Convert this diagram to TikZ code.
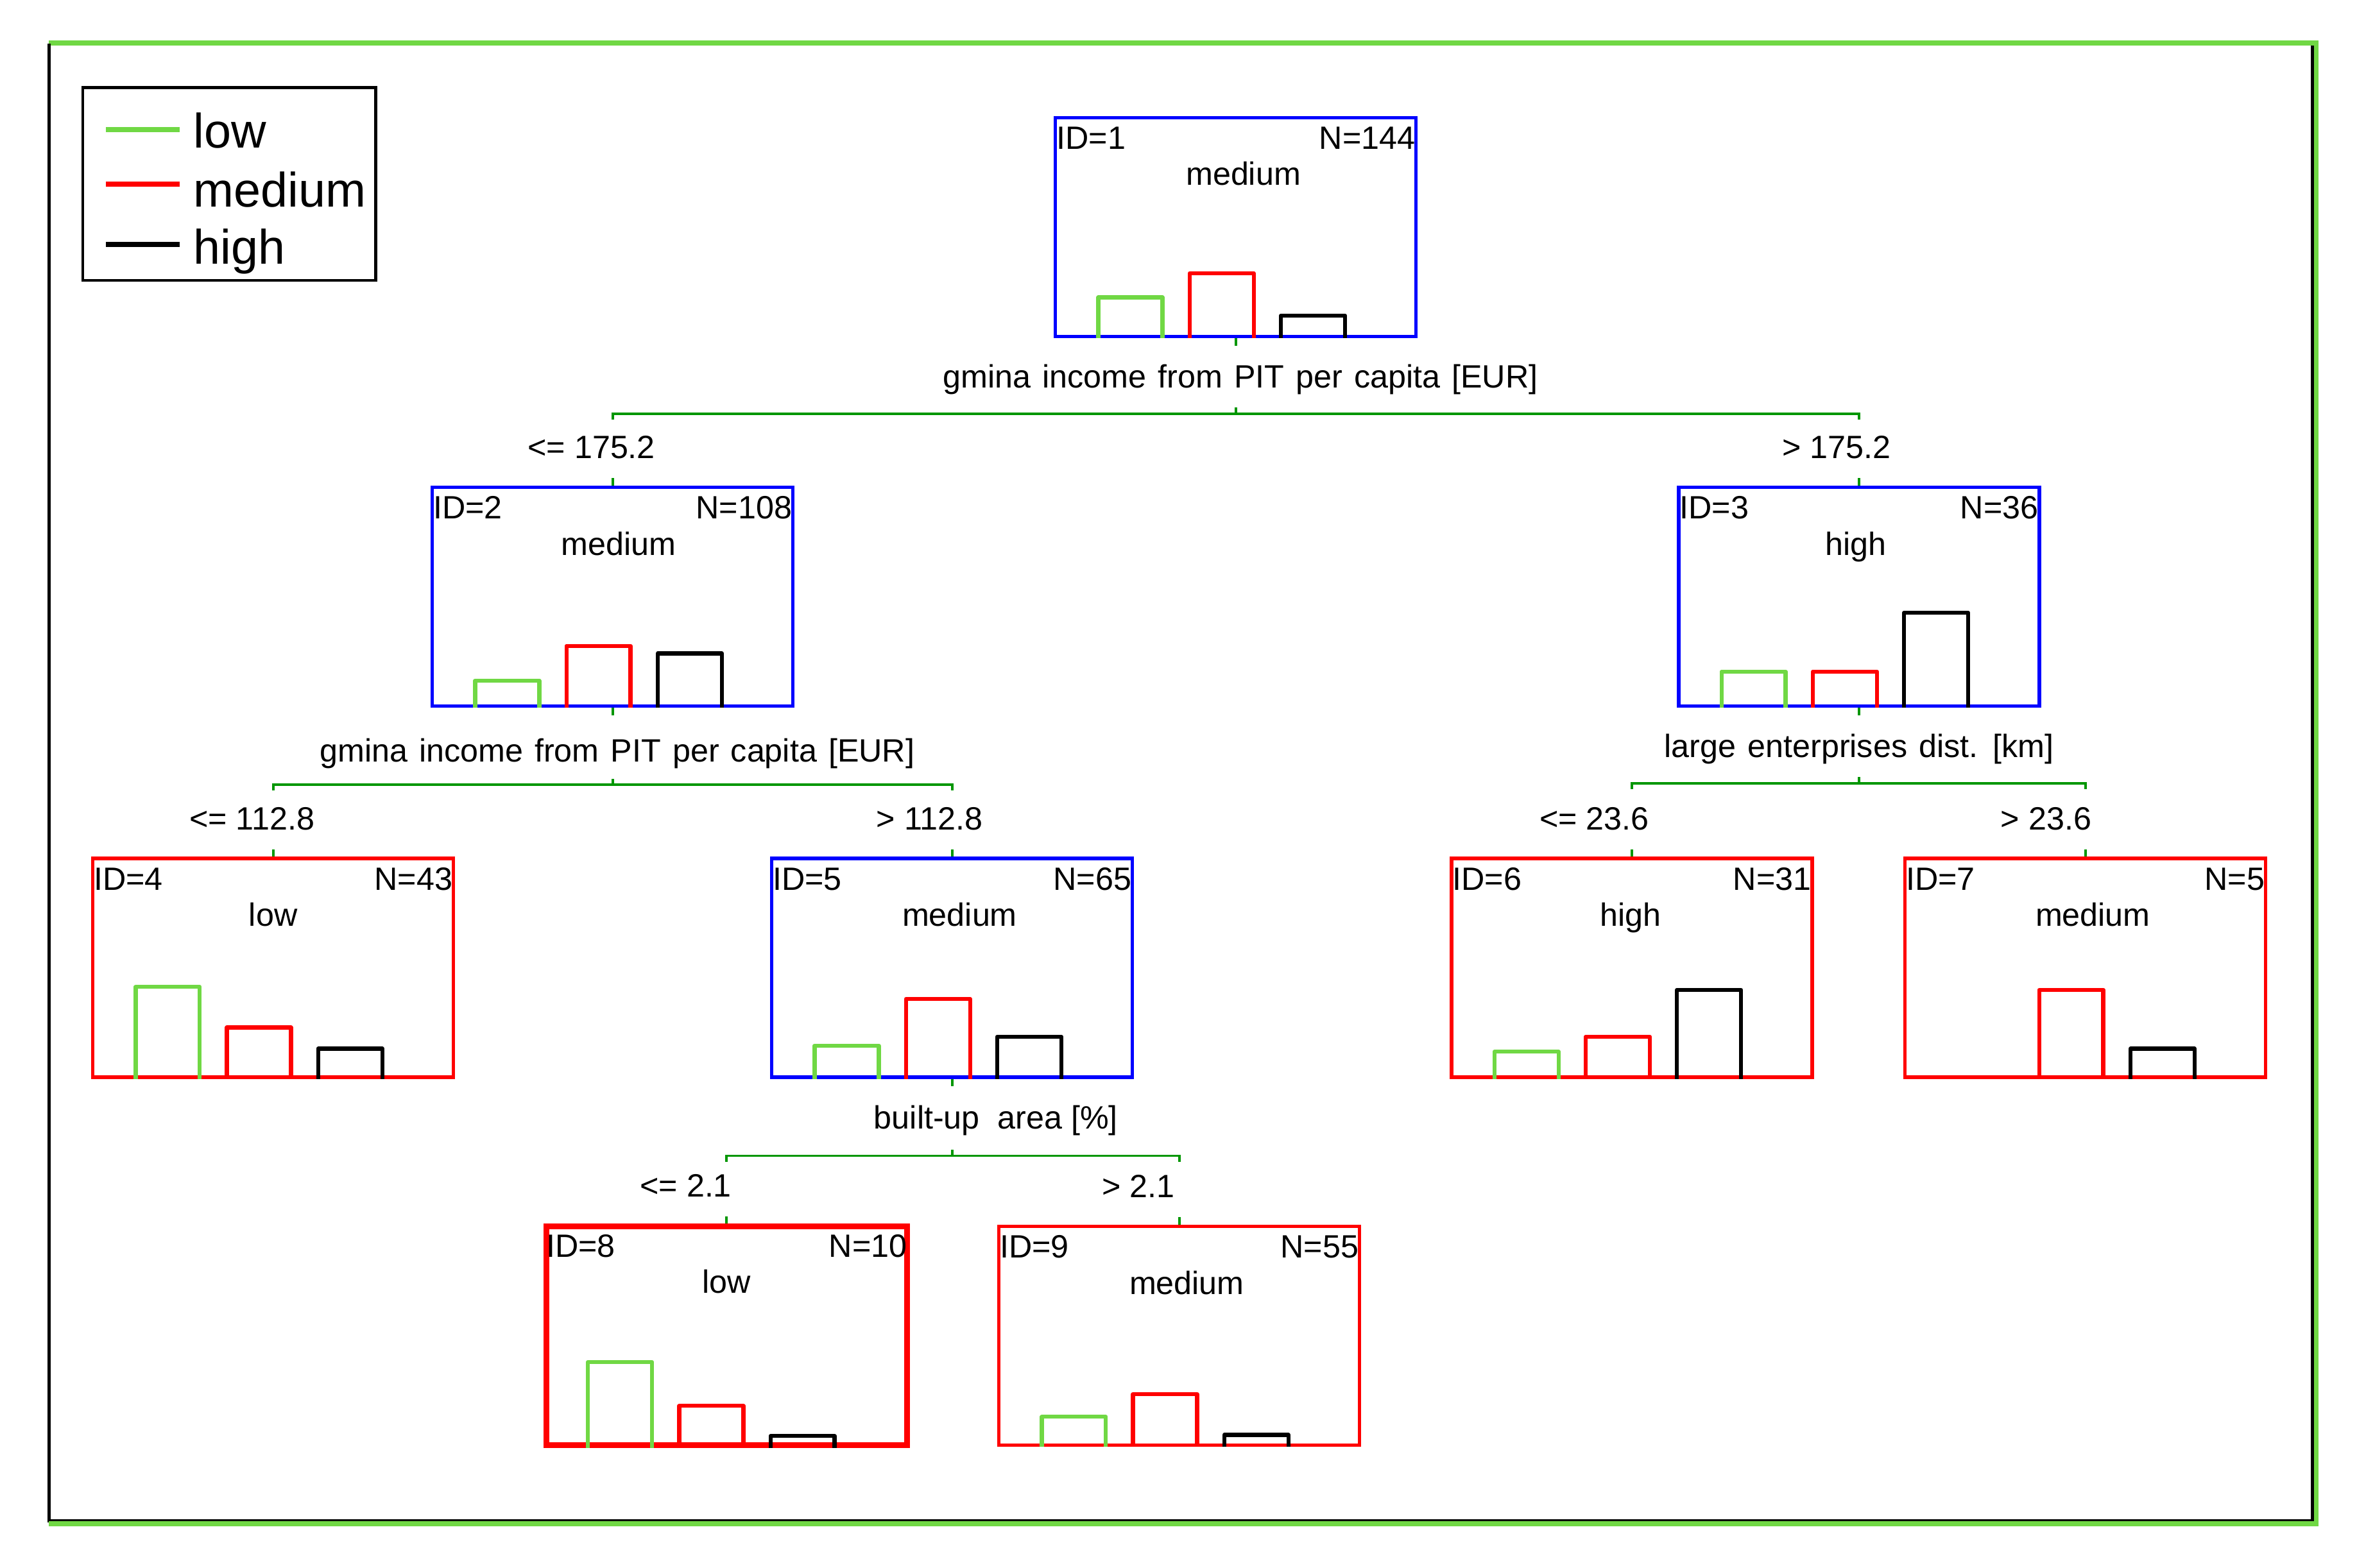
\documentclass[tikz,border=0pt]{standalone}
\usepackage{fontspec}
\setmainfont{Liberation Sans}
\usetikzlibrary{calc}
\definecolor{lowc}{RGB}{112,216,68}
\definecolor{medc}{RGB}{255,0,0}
\definecolor{highc}{RGB}{0,0,0}
\definecolor{connc}{RGB}{0,150,0}
\definecolor{boxblue}{RGB}{0,0,255}
\newcommand\widesp{\spaceskip=0.36em plus 0.1em\relax}
\tikzset{
  tbox/.style={draw=#1, line width=1.5pt, inner sep=0pt,
    minimum width={239*0.023514cm}, minimum height={145*0.023514cm}},
  bar/.style={line width=1.8pt, line join=round},
  conn/.style={draw=connc, line width=1.1pt},
  txt/.style={font=\fontsize{14.3pt}{17pt}\selectfont, inner sep=0pt},
  idtxt/.style={txt, anchor=base west},
  ntxt/.style={txt, anchor=base east},
  lab/.style={txt, anchor=base},
  legtxt/.style={font=\fontsize{21.5pt}{25pt}\selectfont, inner sep=0pt, anchor=base west},
  legline/.style={line width=2.3pt},
}
\newcommand\histbars[4]{%
  \ifdim #2pt>0pt \draw[lowc,bar] ($(#1.south west)+(29.5,0)$) -- ++(0,-#2) -- ++(42.5,0) -- ++(0,#2);\fi
  \draw[medc,bar] ($(#1.south west)+(90,0)$) -- ++(0,-#3) -- ++(42.5,0) -- ++(0,#3);
  \draw[highc,bar] ($(#1.south west)+(150.5,0)$) -- ++(0,-#4) -- ++(42.5,0) -- ++(0,#4);
}
\newcommand\nodetext[5]{%
  \node[idtxt] (#1id) at ($(#1.north west)+(1.5,22)$) {#2};
  \node[ntxt] (#1n) at ($(#1.north east)+(-1.5,22)$) {#3};
  \node[lab] (#1lab) at ($(#1.north)+(#5,46)$) {#4};
}
\begin{document}
\begin{tikzpicture}[x=0.023514cm, y=-0.023514cm]
\useasboundingbox (0,0) rectangle (1568,1039);
% outer frame
\draw[black, line width=1.4pt] (32.5,29) -- (32.5,1008) -- (1532.4,1008) -- (1532.4,29);
\draw[lowc, line width=2.2pt] (32.5,28.4) -- (1535,28.4) -- (1535,1010) -- (32.5,1010);
\draw[black, line width=1.4pt] (32.5,29) -- (32.5,1008.5);
% legend
\node[draw=black, line width=1.2pt, inner sep=0pt, minimum width={194*0.023514cm}, minimum height={128*0.023514cm}] (legend) at (152,122) {};
\draw[lowc, legline] ($(legend.west)+(16,-36)$) -- ++(49,0);
\draw[medc, legline] ($(legend.west)+(16,0)$) -- ++(49,0);
\draw[highc, legline] ($(legend.west)+(16,40)$) -- ++(49,0);
\node[legtxt] (leglow) at ($(legend.west)+(74,-24)$) {low};
\node[legtxt] (legmed) at ($(legend.west)+(74,15)$) {medium};
\node[legtxt] (leghigh) at ($(legend.west)+(74,53)$) {high};
% tree nodes
\node[tbox=boxblue] (n1) at (819,150.5) {};
\node[tbox=boxblue] (n2) at (406,395.5) {};
\node[tbox=boxblue] (n3) at (1232,395.5) {};
\node[tbox=medc] (n4) at (181,641.5) {};
\node[tbox=boxblue] (n5) at (631,641.5) {};
\node[tbox=medc] (n6) at (1081.5,641.5) {};
\node[tbox=medc] (n7) at (1382,641.5) {};
\node[tbox=medc, line width=2.5pt] (n8) at (481.5,885.5) {};
\node[tbox=medc] (n9) at (781.5,885.5) {};
\histbars{n1}{27}{43}{15}
\histbars{n2}{18}{41}{36}
\histbars{n3}{24}{24}{63}
\histbars{n4}{61}{34}{20}
\histbars{n5}{22}{53}{28}
\histbars{n6}{18}{28}{59}
\histbars{n7}{0}{59}{20}
\histbars{n8}{57}{28}{8}
\histbars{n9}{20}{35}{8}
\nodetext{n1}{ID=1}{N=144}{medium}{5}
\nodetext{n2}{ID=2}{N=108}{medium}{4}
\nodetext{n3}{ID=3}{N=36}{high}{-2}
\nodetext{n4}{ID=4}{N=43}{low}{0}
\nodetext{n5}{ID=5}{N=65}{medium}{5}
\nodetext{n6}{ID=6}{N=31}{high}{-1}
\nodetext{n7}{ID=7}{N=5}{medium}{5}
\nodetext{n8}{ID=8}{N=10}{low}{0}
\nodetext{n9}{ID=9}{N=55}{medium}{5}
% split of node 1
\coordinate (s1) at ($(n1.south)+(0,50)$);
\draw[conn] (n1.south) -- ++(0,5);
\draw[conn] (s1) -- ++(0,-4);
\draw[conn] ($(n2.north |- s1)+(0,4)$) -- (n2.north |- s1) -- (n3.north |- s1) -- ($(n3.north |- s1)+(0,4)$);
\draw[conn] (n2.north) -- ++(0,-5);
\draw[conn] (n3.north) -- ++(0,-5);
\node[lab] (t1) at ($(n1.south)+(3,33)$) {\widesp gmina income from PIT per capita [EUR]};
\node[lab] (c2) at ($(n2.north)+(-14,-18)$) {<= 175.2};
\node[lab] (c3) at ($(n3.north)+(-15,-18)$) {> 175.2};
% split of node 2
\coordinate (s2) at ($(n2.south)+(0,51)$);
\draw[conn] (n2.south) -- ++(0,5);
\draw[conn] (s2) -- ++(0,-4);
\draw[conn] ($(n4.north |- s2)+(0,4)$) -- (n4.north |- s2) -- (n5.north |- s2) -- ($(n5.north |- s2)+(0,4)$);
\draw[conn] (n4.north) -- ++(0,-5);
\draw[conn] (n5.north) -- ++(0,-5);
\node[lab] (t2) at ($(n2.south)+(3,36)$) {\widesp gmina income from PIT per capita [EUR]};
\node[lab] (c4) at ($(n4.north)+(-14,-18)$) {<= 112.8};
\node[lab] (c5) at ($(n5.north)+(-15,-18)$) {> 112.8};
% split of node 3
\coordinate (s3) at ($(n3.south)+(0,50)$);
\draw[conn] (n3.south) -- ++(0,5);
\draw[conn] (s3) -- ++(0,-4);
\draw[conn] ($(n6.north |- s3)+(0,4)$) -- (n6.north |- s3) -- (n7.north |- s3) -- ($(n7.north |- s3)+(0,4)$);
\draw[conn] (n6.north) -- ++(0,-5);
\draw[conn] (n7.north) -- ++(0,-5);
\node[lab] (t3) at ($(n3.south)+(0,33)$) {\widesp large enterprises dist. [km]};
\node[lab] (c6) at ($(n6.north)+(-25,-18)$) {<= 23.6};
\node[lab] (c7) at ($(n7.north)+(-26,-18)$) {> 23.6};
% split of node 5
\coordinate (s5) at ($(n5.south)+(0,51)$);
\draw[conn] (n5.south) -- ++(0,5);
\draw[conn] (s5) -- ++(0,-4);
\draw[conn] ($(n8.north |- s5)+(0,4)$) -- (n8.north |- s5) -- (n9.north |- s5) -- ($(n9.north |- s5)+(0,4)$);
\draw[conn] (n8.north) -- ++(0,-5);
\draw[conn] (n9.north) -- ++(0,-5);
\node[lab] (t5) at ($(n5.south)+(29,33)$) {built-up~ area [\%]};
\node[lab] (c8) at ($(n8.north)+(-27,-18)$) {<= 2.1};
\node[lab] (c9) at ($(n9.north)+(-27,-18)$) {> 2.1};
\end{tikzpicture}
\end{document}
